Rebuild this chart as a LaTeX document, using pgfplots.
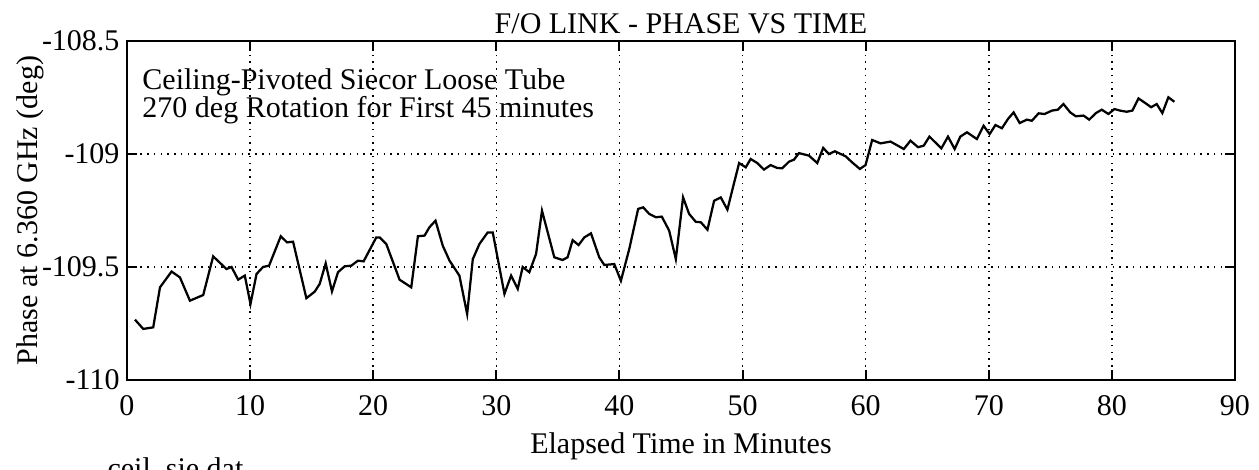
\documentclass[border=0pt]{standalone}
\usepackage{fontspec}
\setmainfont{Liberation Serif}
\usepackage{pgfplots}
\pgfplotsset{compat=1.18}

\begin{document}
\fontsize{12}{14}\selectfont
\begin{tikzpicture}
\begin{axis}[
  scale only axis, width=443.2pt, height=135.6pt,
  xmin=0, xmax=90, ymin=-110, ymax=-108.5,
  xtick={0,10,20,30,40,50,60,70,80,90},
  xticklabels={0,10,20,30,40,50,60,70,80,90},
  ytick={-110,-109.5,-109,-108.5},
  yticklabels={-110,-109.5,-109,-108.5},
  xticklabel style={anchor=base, yshift=-14pt},
  yticklabel style={anchor=east, inner sep=0pt, xshift=-2.8pt},
  grid=major,
  grid style={black, line width=0.6pt, dash pattern=on 0.6pt off 2.1pt},
  tick align=inside, major tick length=4pt,
  tick style={black, line width=0.8pt},
  axis line style={line width=0.8pt},
  clip=false,
  title={F/O LINK - PHASE VS TIME},
  every axis title/.style={at={(axis description cs:0.5,1)}, anchor=base, yshift=3.2pt, inner sep=0pt},
  xlabel={Elapsed Time in Minutes},
  every axis x label/.style={at={(axis description cs:0.5,0)}, anchor=base, yshift=-29.2pt, inner sep=0pt},
  ylabel={Phase at 6.360 GHz (deg)},
  every axis y label/.style={at={(axis description cs:-0.0812,0.5)}, anchor=base, rotate=90, inner sep=0pt},
]
\addplot[black, line width=0.9pt] coordinates {
(0.65,-109.733) (1.32,-109.774) (2.13,-109.767) (2.68,-109.59) (3.62,-109.52)
(4.3,-109.546) (5.11,-109.649) (6.19,-109.624) (7.0,-109.453) (8.08,-109.509)
(8.49,-109.50) (9.03,-109.556) (9.57,-109.538) (10.03,-109.664) (10.52,-109.531)
(11.05,-109.50) (11.54,-109.494) (12.49,-109.364) (13.0,-109.391) (13.49,-109.388)
(14.57,-109.638) (15.25,-109.609) (15.65,-109.575) (16.14,-109.484) (16.65,-109.608)
(17.14,-109.523) (17.68,-109.497) (18.22,-109.494) (18.76,-109.472) (19.22,-109.475)
(20.25,-109.369) (20.52,-109.369) (21.06,-109.398) (22.14,-109.556) (23.09,-109.59)
(23.63,-109.364) (24.17,-109.361) (24.57,-109.324) (25.06,-109.295) (25.65,-109.406)
(26.2,-109.472) (27.0,-109.538) (27.63,-109.708) (28.09,-109.465) (28.63,-109.398)
(29.3,-109.347) (29.71,-109.347) (30.66,-109.619) (31.2,-109.538) (31.74,-109.597)
(32.14,-109.50) (32.68,-109.523) (33.23,-109.442) (33.71,-109.251) (34.71,-109.457)
(35.38,-109.469) (35.79,-109.457) (36.2,-109.381) (36.68,-109.403) (37.15,-109.369)
(37.69,-109.351) (38.36,-109.457) (38.77,-109.491) (39.58,-109.487) (40.12,-109.561)
(40.8,-109.42) (41.52,-109.243) (41.93,-109.236) (42.42,-109.265) (42.96,-109.28)
(43.44,-109.277) (44.04,-109.339) (44.58,-109.465) (45.17,-109.192) (45.66,-109.265)
(46.2,-109.30) (46.61,-109.302) (47.15,-109.335) (47.69,-109.207) (48.23,-109.192)
(48.77,-109.246) (49.72,-109.04) (50.26,-109.059) (50.66,-109.022) (51.2,-109.04)
(51.74,-109.069) (52.28,-109.049) (52.82,-109.062) (53.23,-109.063) (53.77,-109.034)
(54.18,-109.025) (54.58,-108.996) (55.39,-109.007) (56.07,-109.04) (56.55,-108.973)
(57.01,-109.0) (57.5,-108.988) (58.37,-109.01) (58.9,-109.037) (59.53,-109.066)
(59.99,-109.049) (60.53,-108.938) (61.21,-108.953) (62.02,-108.945) (63.1,-108.978)
(63.64,-108.941) (64.26,-108.97) (64.72,-108.963) (65.18,-108.923) (66.15,-108.975)
(66.69,-108.923) (67.23,-108.978) (67.69,-108.923) (68.23,-108.904) (69.04,-108.934)
(69.58,-108.875) (70.07,-108.912) (70.54,-108.872) (71.07,-108.886) (71.56,-108.845)
(72.02,-108.816) (72.51,-108.863) (73.1,-108.848) (73.5,-108.853) (74.05,-108.82)
(74.53,-108.823) (75.13,-108.808) (75.61,-108.804) (76.07,-108.779) (76.62,-108.816)
(77.07,-108.833) (77.7,-108.83) (78.16,-108.848) (78.7,-108.819) (79.18,-108.804)
(79.72,-108.823) (80.21,-108.801) (80.67,-108.808) (81.2,-108.813) (81.67,-108.808)
(82.16,-108.754) (82.7,-108.774) (83.19,-108.793) (83.64,-108.779) (84.1,-108.819)
(84.59,-108.749) (85.08,-108.769)
};
\node[anchor=base west, inner sep=0pt] at (rel axis cs:0.0135,0.8555) {Ceiling-Pivoted Siecor Loose Tube};
\node[anchor=base west, inner sep=0pt] at (rel axis cs:0.0135,0.7758) {270 deg Rotation for First 45 minutes};
\node[anchor=base west, inner sep=0pt] at (rel axis cs:-0.018,-0.2906) {ceil\_sie.dat};
\end{axis}
\pgfresetboundingbox
\useasboundingbox (-50.8pt,-35.6pt) rectangle (452.8pt,152pt);
\end{tikzpicture}
\end{document}
